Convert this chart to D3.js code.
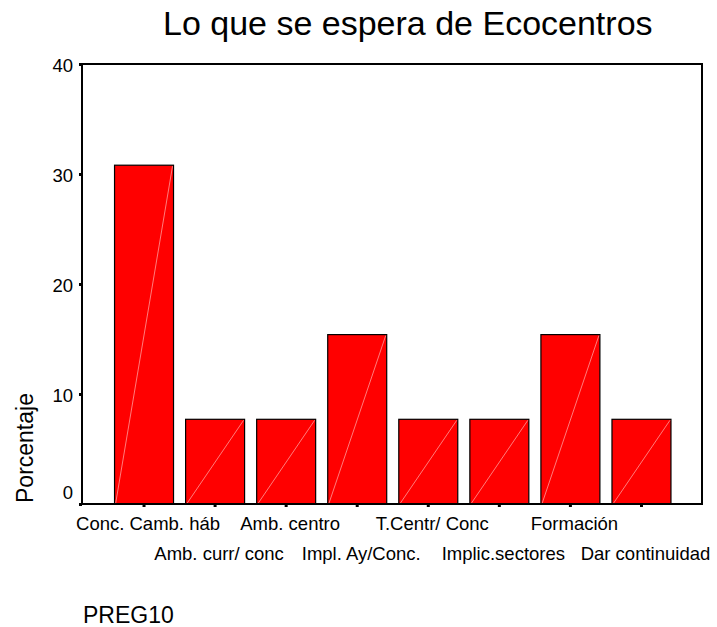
<!DOCTYPE html>
<html><head><meta charset="utf-8">
<script src="https://cdn.jsdelivr.net/npm/d3@7"></script>
<style>
body{margin:0;background:#fff}
svg{display:block}
text{font-family:"Liberation Sans",Arial,sans-serif;fill:#000}
</style>
</head><body><svg id="c" width="717" height="627"></svg>
<script>
const categories = ["Conc. Camb. háb","Amb. curr/ conc","Amb. centro","Impl. Ay/Conc.","T.Centr/ Conc","Implic.sectores","Formación","Dar continuidad"];
const values = [30.8,7.7,7.7,15.4,7.7,7.7,15.4,7.7];
const yTicks = [0,10,20,30,40];
const title = "Lo que se espera de Ecocentros";
const yLabel = "Porcentaje";
const xLabel = "PREG10";

const svg = d3.select("#c");
const frame = {left:82, top:64, right:702, bottom:504};

const y = d3.scaleLinear().domain([0,40]).range([frame.bottom, frame.top]);
const x = d3.scaleBand().domain(categories).range([108.5, 677]).paddingInner(0.17).paddingOuter(0.085);

// title
svg.append("text").attr("x",163).attr("y",35).attr("font-size",34).text(title);

// bars
const bars = svg.append("g");
categories.forEach((c,i)=>{
  const x0 = x(c), x1 = x(c)+x.bandwidth(), yt = y(values[i]), yb = y(0);
  bars.append("rect").attr("x",x0).attr("y",yt).attr("width",x.bandwidth()).attr("height",yb-yt)
    .attr("fill","#ff0000").attr("stroke","#000").attr("stroke-width",1.2);
  bars.append("line").attr("x1",x0+1).attr("y1",yb).attr("x2",x1-1).attr("y2",yt+1)
    .attr("stroke","#ff9a9a").attr("stroke-width",0.8);
});

// frame
svg.append("rect").attr("x",frame.left).attr("y",frame.top)
  .attr("width",frame.right-frame.left).attr("height",frame.bottom-frame.top)
  .attr("fill","none").attr("stroke","#000").attr("stroke-width",2);

// y axis
const ya = svg.append("g").attr("transform",`translate(${frame.left},0)`)
  .call(d3.axisLeft(y).tickValues(yTicks).tickSize(3).tickPadding(6).tickFormat(d3.format("d")));
ya.select(".domain").remove();
ya.selectAll(".tick line").attr("stroke","#000").attr("stroke-width",3);
ya.selectAll(".tick text").attr("font-size",18.5).attr("font-family","Liberation Sans, Arial, sans-serif")
  .attr("dy", d => d===0 ? "-0.28em" : "0.4em");

// x axis
const xa = svg.append("g").attr("transform",`translate(0,${frame.bottom})`)
  .call(d3.axisBottom(x).tickSize(3));
xa.select(".domain").remove();
xa.selectAll(".tick line").attr("stroke","#000").attr("stroke-width",3);
xa.selectAll(".tick text").attr("font-size",18.5).attr("font-family","Liberation Sans, Arial, sans-serif")
  .attr("dy","0").attr("dx",4)
  .attr("y",(d,i)=> i%2 ? 56 : 26);

// axis titles
svg.append("text").attr("transform","translate(33,503) rotate(-90)")
  .attr("font-size",23).text(yLabel);
svg.append("text").attr("x",83).attr("y",623).attr("font-size",23).text(xLabel);
</script>
</body></html>
